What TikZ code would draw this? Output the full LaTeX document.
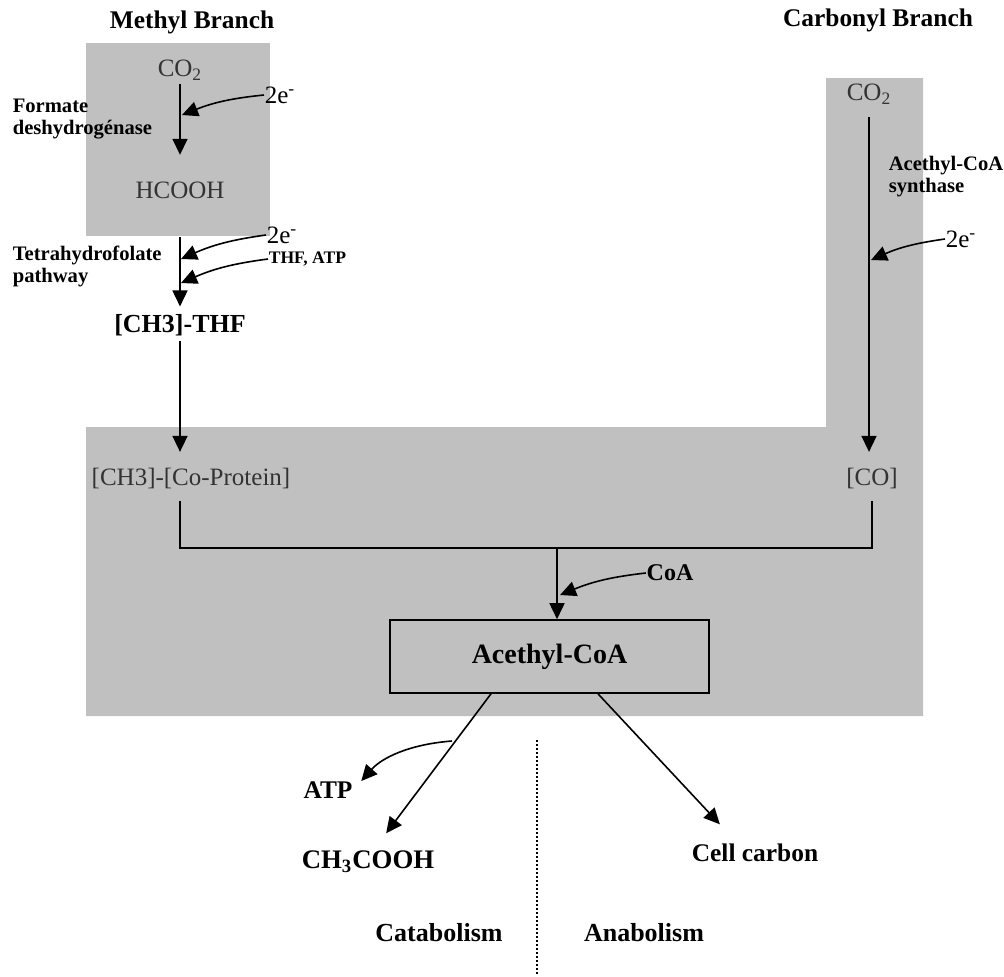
\documentclass[tikz,border=0pt]{standalone}
\usepackage{fontspec}
\setmainfont{Liberation Serif}
\usetikzlibrary{arrows.meta,calc,positioning}
\definecolor{boxgray}{HTML}{C0C0C0}
\definecolor{chemgray}{HTML}{333333}

\begin{document}
\begin{tikzpicture}[x=0.5pt,y=-0.5pt,>={Triangle[length=8pt,width=7.5pt]},line width=0.8pt,
  branch/.style={font=\fontsize{12.7}{14}\selectfont\bfseries,inner sep=0pt},
  enzyme/.style={font=\fontsize{10.3}{11}\selectfont\bfseries,align=left,inner sep=0pt,anchor=west},
  chem/.style={font=\fontsize{12.5}{14}\selectfont,text=chemgray,inner sep=0pt},
  elec/.style={font=\fontsize{12.5}{14}\selectfont,inner sep=0pt},
  feed/.style={->,bend right=8}]
  \useasboundingbox (0,0) rectangle (1004,976);
  \fill[boxgray] (86,43) rectangle (270,236);
  \fill[boxgray] (86,427) -- (826,427) -- (826,78) -- (923,78) -- (923,716) -- (86,716) -- cycle;

  % titles
  \node[branch] (methyl) at (192,22) {Methyl Branch};
  \node[branch] (carbonyl) at (878,20) {Carbonyl Branch};

  % species
  \node[chem] (co2m) at (180,70) {CO\textsubscript{2}};
  \node[chem] (hcooh) at (180,190) {HCOOH};
  \node[branch,font=\fontsize{13}{15}\selectfont\bfseries] (ch3thf) at (180,325) {[CH3]-THF};
  \node[chem] (ch3co) at (191,478) {[CH3]-[Co-Protein]};
  \node[chem] (co2c) at (869,94) {CO\textsubscript{2}};
  \node[chem] (co) at (872,478) {[CO]};
  \node[draw,fill=boxgray,minimum width=159.5pt,minimum height=36.5pt,
    font=\fontsize{14}{16}\selectfont\bfseries] (acetyl) at (549.5,656.5) {Acethyl-CoA};
  \node[branch] (atp) at (328,790) {ATP};
  \node[branch,font=\fontsize{13.4}{15}\selectfont\bfseries] (acetic) at (368,862) {CH\textsubscript{3}COOH};
  \node[branch] (cell) at (755,853) {Cell carbon};
  \node[branch,font=\fontsize{13}{15}\selectfont\bfseries] (catab) at (439,933) {Catabolism};
  \node[branch,font=\fontsize{13}{15}\selectfont\bfseries] (anab) at (644,933) {Anabolism};

  % cofactors and enzymes
  \node[elec] (e1) at (280,95) {2e\textsuperscript{-}};
  \node[elec] (e2) at (282,235) {2e\textsuperscript{-}};
  \node[enzyme,font=\fontsize{8.8}{10}\selectfont\bfseries] (thfatp) at (268,259) {THF, ATP};
  \node[elec] (e3) at (961,239) {2e\textsuperscript{-}};
  \node[branch,font=\fontsize{12}{14}\selectfont\bfseries] (coa) at (670,573) {CoA};
  \node[enzyme] (fdh) at (12,119) {Formate\\deshydrogénase};
  \node[enzyme] (thfpath) at (12,266) {Tetrahydrofolate\\pathway};
  \node[enzyme] (acs) at (888,177) {Acethyl-CoA\\synthase};

  \coordinate (m1) at (182,115);
  \coordinate (m2) at (181,259);
  \coordinate (m3) at (181,283);
  \coordinate (c1) at (871,260);
  \coordinate (join) at (557,548);
  \coordinate (k1) at (560,595);
  \coordinate (atpsrc) at (452,741);
  \coordinate (divtop) at (537,740);
  \coordinate (divbot) at (537,976);

  % methyl branch
  \draw[->,shorten <=1.5pt,shorten >=13pt] (co2m.south) -- (hcooh.north);
  \draw[->,shorten <=19pt,shorten >=3.5pt] (hcooh.south) -- (hcooh.south |- ch3thf.north);
  \draw[->,shorten <=2pt,shorten >=7.5pt] (ch3thf.south) -- (ch3thf.south |- ch3co.north);
  % carbonyl branch
  \draw[->,shorten <=6pt,shorten >=7.5pt] (co2c.south) -- (co2c.south |- co.north);
  % merge
  \draw[shorten <=5.75pt,shorten >=5.75pt] (ch3thf.south |- ch3co.south) |- (join) -| (co.south);
  \draw[->] (join) -- (join |- acetyl.north);
  % side inputs
  \draw[feed] (e1.west) to (m1);
  \draw[feed] (e2.west) to (m2);
  \draw[feed] (thfatp.west) to (m3);
  \draw[feed] (e3.west) to (c1);
  \draw[feed] (coa.west) to (k1);
  % products
  \draw[->,shorten >=10.5pt] ([xshift=-29.25pt]acetyl.south) -- ([xshift=2.75pt]acetic.north);
  \draw[->,shorten >=13pt] ([xshift=24.25pt]acetyl.south) -- ([xshift=-8.7pt]cell.north);
  \draw[feed,bend right=22,shorten >=6pt] (atpsrc) to (atp.east);
  \draw[dash pattern=on 1pt off 1pt,line width=1.1pt] (divtop) -- (divbot);
\end{tikzpicture}
\end{document}
